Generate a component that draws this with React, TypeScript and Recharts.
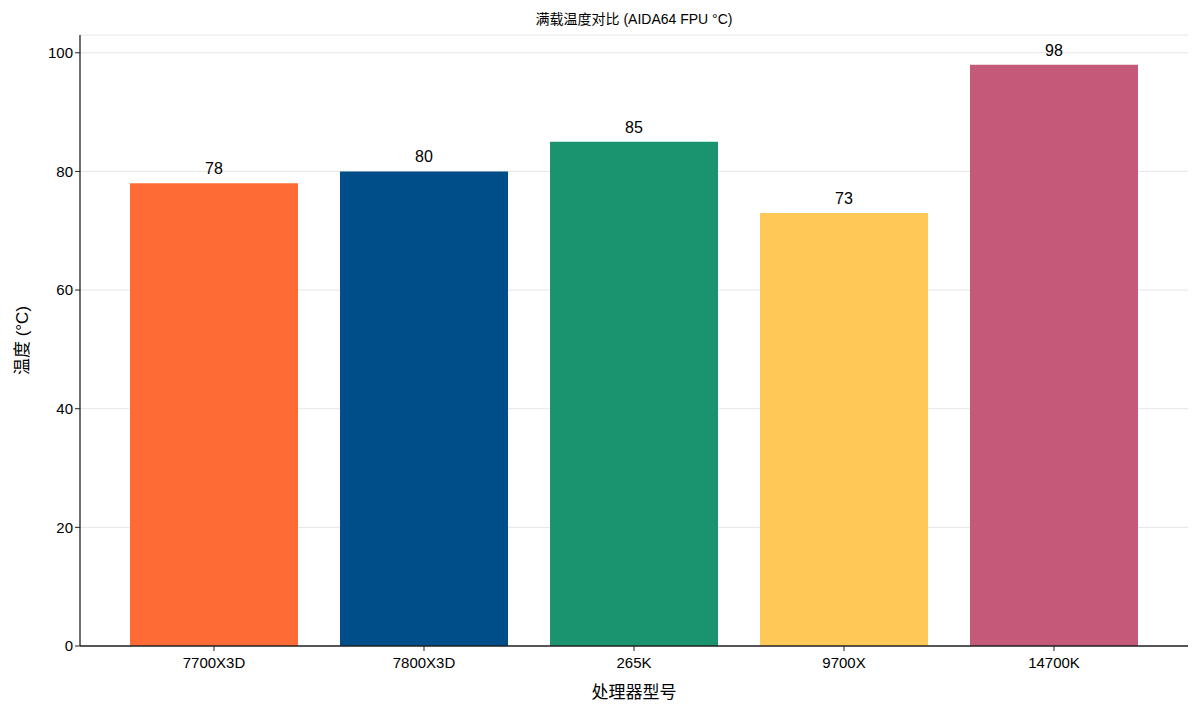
import { BarChart, Bar, XAxis, YAxis, CartesianGrid, LabelList, Cell } from "recharts";

const cpus = ["7700X3D", "7800X3D", "265K", "9700X", "14700K"];
const temps = [78, 80, 85, 73, 98];
const barColors = ["#FF6B35", "#004E89", "#1A936F", "#FFC857", "#C5597A"];
const yTicks = [0, 20, 40, 60, 80, 100];

const data = cpus.map((name, i) => ({ name, temp: temps[i] }));

const font = '"Liberation Sans", "Noto Sans CJK SC", sans-serif';

export default function App() {
  return (
    <div style={{ position: "absolute", left: 0, top: 0, fontFamily: font }}>
      <div
        style={{
          position: "absolute",
          left: 80,
          width: 1108,
          top: 8,
          textAlign: "center",
          fontSize: 14,
          color: "#000",
        }}
      >
        满载温度对比 (AIDA64 FPU °C)
      </div>
      <BarChart
        width={1200}
        height={714}
        data={data}
        margin={{ top: 35, right: 12, left: 0, bottom: 38 }}
        barCategoryGap="10%"
      >
        <CartesianGrid stroke="#e6e6e6" vertical={false} />
        <XAxis
          dataKey="name"
          padding={{ left: 29, right: 29 }}
          tick={{ fontSize: 15, fill: "#000", fontFamily: font, dy: 4 }}
          tickLine={{ stroke: "#222" }}
          axisLine={{ stroke: "#222", strokeWidth: 1.3 }}
          tickSize={5}
          label={{
            value: "处理器型号",
            position: "insideBottom",
            offset: -22,
            fontSize: 17,
            fill: "#000",
            fontFamily: font,
          }}
        />
        <YAxis
          domain={[0, 103]}
          ticks={yTicks}
          width={80}
          tick={{ fontSize: 15, fill: "#000", fontFamily: font }}
          tickLine={{ stroke: "#222" }}
          axisLine={{ stroke: "#222", strokeWidth: 1.3 }}
          tickSize={5}
          label={{
            value: "温度 (°C)",
            angle: -90,
            position: "insideLeft",
            offset: 22,
            fontSize: 17,
            fill: "#000",
            fontFamily: font,
            style: { textAnchor: "middle" },
          }}
        />
        <Bar dataKey="temp" isAnimationActive={false}>
          {data.map((d, i) => (
            <Cell key={d.name} fill={barColors[i]} />
          ))}
          <LabelList
            dataKey="temp"
            position="top"
            offset={9}
            style={{ fontSize: 16, fill: "#000", fontFamily: font }}
          />
        </Bar>
      </BarChart>
    </div>
  );
}
